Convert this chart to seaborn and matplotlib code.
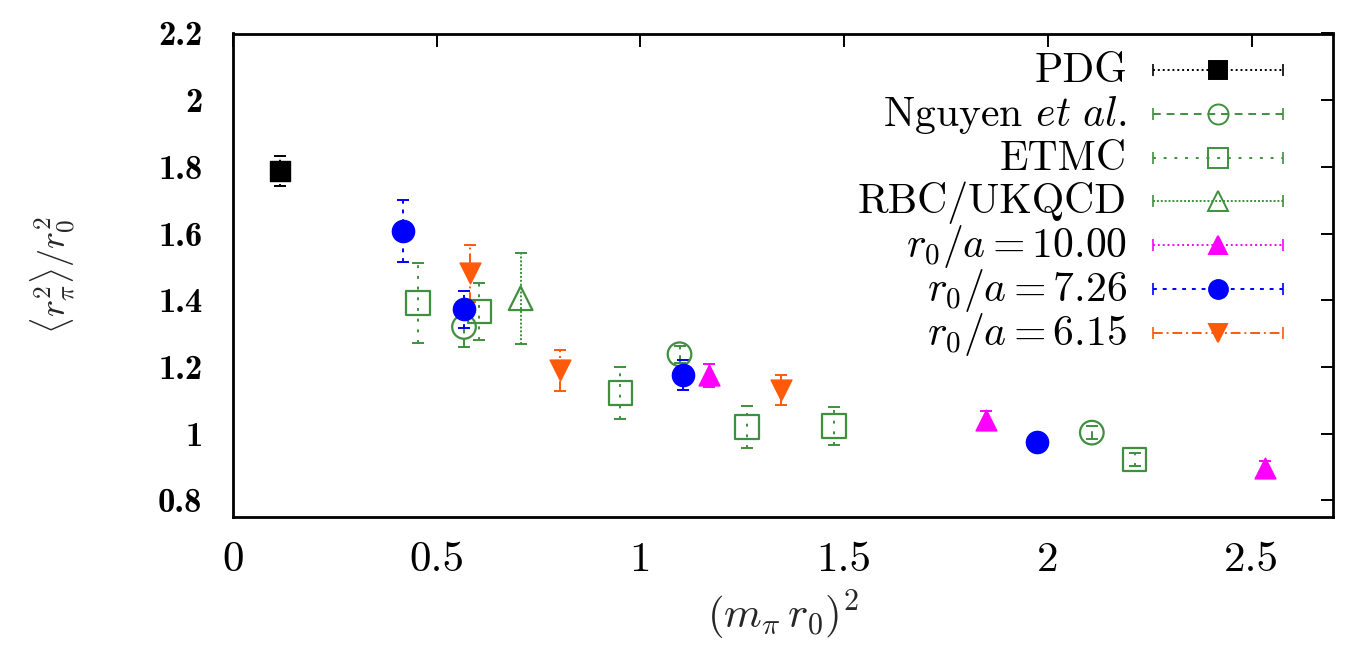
import matplotlib
matplotlib.use("Agg")
import matplotlib.pyplot as plt
import seaborn as sns
import numpy as np
import pandas as pd
from matplotlib.lines import Line2D

# ---------------- data ----------------
pdg_x = [0.115]
pdg_y = [1.789]
pdg_e = [0.045]

nguyen_x = [0.567, 1.096, 2.108]
nguyen_y = [1.320, 1.238, 1.003]
nguyen_e = [0.060, 0.025, 0.020]

etmc_x = [0.454, 0.605, 0.951, 1.261, 1.475, 2.213]
etmc_y = [1.391, 1.366, 1.122, 1.020, 1.023, 0.922]
etmc_e = [0.120, 0.085, 0.077, 0.062, 0.057, 0.020]

rbc_x = [0.706]
rbc_y = [1.406]
rbc_e = [0.137]

r10_x = [1.169, 1.848, 2.534]
r10_y = [1.175, 1.042, 0.898]
r10_e = [0.035, 0.025, 0.020]

r726_x = [0.417, 0.567, 1.104, 1.973]
r726_y = [1.609, 1.373, 1.175, 0.975]
r726_e = [0.093, 0.055, 0.045, 0.020]

r615_x = [0.581, 0.803, 1.346]
r615_y = [1.481, 1.190, 1.132]
r615_e = [0.085, 0.062, 0.045]

labels = ["PDG", r"Nguyen $\mathit{et\ al.}$", "ETMC", "RBC/UKQCD",
          r"$r_0/a = 10.00$", r"$r_0/a = 7.26$", r"$r_0/a = 6.15$"]

xticks = [0, 0.5, 1, 1.5, 2, 2.5]
xtick_labels = ["0", "0.5", "1", "1.5", "2", "2.5"]
yticks = [0.8, 1.0, 1.2, 1.4, 1.6, 1.8, 2.0, 2.2]
ytick_labels = ["0.8", "1", "1.2", "1.4", "1.6", "1.8", "2", "2.2"]

# ---------------- style ----------------
sns.set_theme(style="white")
plt.rcParams["font.family"] = ["cmr10", "DejaVu Serif"]
plt.rcParams["mathtext.fontset"] = "cm"
plt.rcParams["axes.formatter.use_mathtext"] = True

green = "#3f8f3f"
series = [
    dict(x=pdg_x, y=pdg_y, e=pdg_e, color="black", marker="s", fill=True, ms=15,
         ls=(0, (1, 1.5))),
    dict(x=nguyen_x, y=nguyen_y, e=nguyen_e, color=green, marker="o", fill=False, ms=17,
         ls=(0, (4, 3))),
    dict(x=etmc_x, y=etmc_y, e=etmc_e, color=green, marker="s", fill=False, ms=17,
         ls=(0, (1.5, 4))),
    dict(x=rbc_x, y=rbc_y, e=rbc_e, color=green, marker="^", fill=False, ms=17,
         ls=(0, (1, 1))),
    dict(x=r10_x, y=r10_y, e=r10_e, color="#ff00ff", marker="^", fill=True, ms=15,
         ls=(0, (1, 1.5))),
    dict(x=r726_x, y=r726_y, e=r726_e, color="#0000ff", marker="o", fill=True, ms=16,
         ls=(0, (2, 3))),
    dict(x=r615_x, y=r615_y, e=r615_e, color="#ff5a0a", marker="v", fill=True, ms=15,
         ls=(0, (5, 2, 1, 2))),
]

W, H = 1350, 652
AX_L, AX_R, AX_T, AX_B = 233, 1333, 33.5, 517
fig = plt.figure(figsize=(W / 100, H / 100), dpi=100)
ax = fig.add_axes([AX_L / W, 1 - AX_B / H, (AX_R - AX_L) / W, (AX_B - AX_T) / H])


def fx(px):
    return (px - AX_L) / (AX_R - AX_L)


def fy(py):
    return 1 - (py - AX_T) / (AX_B - AX_T)


for s in series:
    eb = ax.errorbar(s["x"], s["y"], yerr=s["e"], fmt="none", ecolor=s["color"],
                     elinewidth=1.4, capsize=4, capthick=1.4, zorder=2)
    for lc in eb[2]:
        lc.set_linestyle(s["ls"])
    df = pd.DataFrame({"x": s["x"], "y": s["y"]})
    if s["fill"]:
        sns.scatterplot(data=df, x="x", y="y", ax=ax, marker=s["marker"],
                        s=s["ms"] ** 2, color=s["color"], edgecolor=s["color"],
                        linewidth=1, zorder=3, legend=False)
    else:
        sns.scatterplot(data=df, x="x", y="y", ax=ax, marker=s["marker"],
                        s=s["ms"] ** 2, facecolor="none", edgecolor=s["color"],
                        linewidth=1.6, zorder=3, legend=False)

# ---------------- key (gnuplot style, right-aligned text) ----------------
row0, drow = 70, 43.8
text_right, h0, h1 = 1127, 1153, 1283
for i, (s, lab) in enumerate(zip(series, labels)):
    yc = row0 + i * drow
    ax.text(fx(text_right), fy(yc + 12), lab, transform=ax.transAxes,
            ha="right", va="baseline", fontsize=30, color="black")
    ax.add_line(Line2D([fx(h0), fx(h1)], [fy(yc), fy(yc)], transform=ax.transAxes,
                       color=s["color"], ls=s["ls"], lw=1.4, clip_on=False))
    ax.add_line(Line2D([fx(h0), fx(h1)], [fy(yc), fy(yc)], transform=ax.transAxes,
                       ls="none", marker="|", ms=9, mew=1.2, color=s["color"],
                       clip_on=False))
    ax.add_line(Line2D([fx((h0 + h1) / 2)], [fy(yc)], transform=ax.transAxes,
                       ls="none", marker=s["marker"], ms=s["ms"] * 0.85,
                       mfc=s["color"] if s["fill"] else "none",
                       mec=s["color"], mew=1.4, clip_on=False))

ax.set_xlim(0, 2.7)
ax.set_ylim(0.75, 2.2)
ax.set_xticks(xticks)
ax.set_xticklabels(xtick_labels, fontsize=31)
ax.set_yticks(yticks)
ax.set_yticklabels(ytick_labels, fontsize=25, fontfamily="cmb10")
ax.tick_params(direction="in", length=9, width=1.4, top=True, right=True,
               colors="black")
ax.tick_params(axis="y", pad=22)
ax.tick_params(axis="x", pad=18)
for sp in ax.spines.values():
    sp.set_linewidth(2)
    sp.set_color("black")

ax.set_xlabel(r"$(m_\pi\, r_0)^2$", fontsize=31, labelpad=6)
ax.set_ylabel(r"$\langle r_\pi^2\rangle / r_0^2$", fontsize=26)
ax.yaxis.set_label_coords(fx(77), 0.5)

fig.savefig("out.png", dpi=100, facecolor="white")
